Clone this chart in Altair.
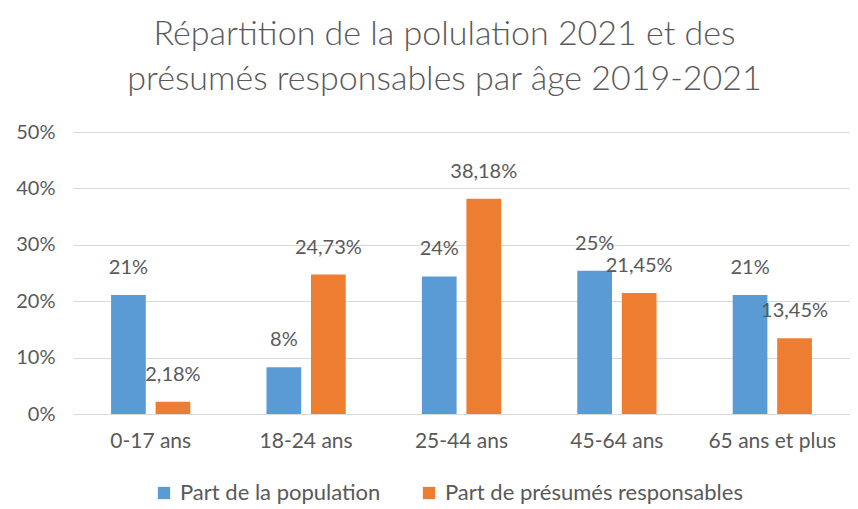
import altair as alt
import pandas as pd

ages = ["0-17 ans", "18-24 ans", "25-44 ans", "45-64 ans", "65 ans et plus"]
series = ["Part de la population", "Part de présumés responsables"]
population = [0.211, 0.083, 0.244, 0.254, 0.211]
responsables = [0.0218, 0.2473, 0.3818, 0.2145, 0.1345]
y_ticks = [0, 0.1, 0.2, 0.3, 0.4, 0.5]
title_lines = ["Répartition de la polulation 2021 et des",
               "présumés responsables par âge 2019-2021"]

rows = []
for a, p, r in zip(ages, population, responsables):
    rows.append({"age": a, "serie": series[0], "k": 0, "valeur": p})
    rows.append({"age": a, "serie": series[1], "k": 1, "valeur": r})
df = pd.DataFrame(rows)

GRAY = "#595959"
FONT = "Lato"

base = alt.Chart(df).transform_calculate(
    label="datum.k == 0 ? format(datum.valeur, '.0%') : replace(format(datum.valeur, '.2%'), '.', ',')"
).encode(
    x=alt.X("age:N", sort=ages,
            scale=alt.Scale(paddingInner=0.49, paddingOuter=0.245),
            axis=alt.Axis(title=None, labelAngle=0, domain=False, ticks=False,
                          labelPadding=16, labelFontSize=21, labelColor=GRAY,
                          labelFont=FONT)),
    xOffset=alt.XOffset("serie:N", sort=series,
                        scale=alt.Scale(paddingInner=0.22, paddingOuter=0)),
    y=alt.Y("valeur:Q", scale=alt.Scale(domain=[0, 0.5], nice=False),
            axis=alt.Axis(values=y_ticks, format=".0%", title=None, domain=False,
                          ticks=False, labelPadding=18, gridColor="#d9d9d9",
                          labelFontSize=20, labelColor=GRAY, labelFont=FONT)),
)

bars = base.mark_bar().encode(
    color=alt.Color("serie:N", sort=series,
                    scale=alt.Scale(domain=series, range=["#5B9BD5", "#ED7D31"]),
                    legend=alt.Legend(title=None, orient="none", legendX=80, legendY=350,
                                      direction="horizontal", symbolType="square",
                                      symbolSize=150, symbolStrokeWidth=0,
                                      labelFontSize=22, labelFont=FONT, labelLimit=0,
                                      labelColor=GRAY, columnPadding=37,
                                      labelOffset=5))
)

text = base.mark_text(baseline="middle", dy=-27, fontSize=20, font=FONT,
                      color=GRAY).encode(text="label:N")

chart = alt.layer(bars, text).properties(
    width=777, height=282,
    title=alt.Title(title_lines, fontSize=34, font=FONT, fontWeight=300,
                    color=GRAY, lineHeight=45, offset=25, anchor="middle", dx=-17),
    padding={"left": 65, "top": 124, "right": 0, "bottom": 90},
    autosize=alt.AutoSizeParams(type="none"),
).configure_view(stroke=None)

chart.save("out.html", embed_options={"renderer": "svg", "actions": False})
